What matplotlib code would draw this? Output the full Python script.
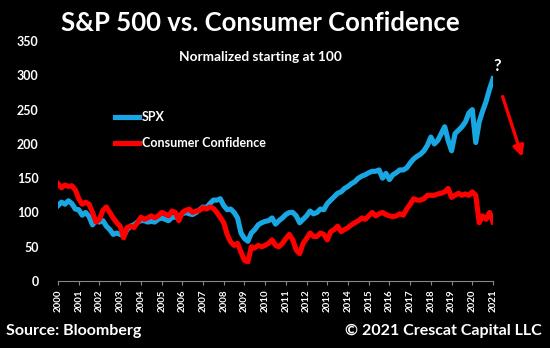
import numpy as np
import matplotlib.pyplot as plt
from matplotlib.lines import Line2D

# Bi-monthly readings, Jan 2000 .. Jan 2021 (normalized, start = 100)
spx = [110, 115, 112, 117, 113, 105,
       104, 96, 100, 94, 82, 88,
       86, 88, 80, 75, 68, 70,
       68, 66, 75, 80, 82, 86,
       88, 88, 86, 87, 86, 90,
       92, 90, 88, 93, 93, 95,
       98, 100, 98, 97, 100, 104,
       108, 107, 113, 118, 118, 120,
       110, 104, 105, 100, 92, 70,
       62, 58, 70, 75, 82, 85,
       87, 88, 92, 83, 88, 92,
       97, 100, 100, 95, 85, 90,
       95, 102, 98, 100, 105, 104,
       113, 118, 123, 128, 130, 135,
       138, 142, 145, 150, 153, 155,
       158, 160, 160, 162, 150, 157,
       148, 155, 158, 162, 162, 165,
       172, 178, 182, 185, 190, 198,
       210, 200, 205, 215, 225, 205,
       190, 215, 220, 225, 232, 245,
       250, 202, 232, 248, 262, 280,
       295]
conf = [142, 136, 140, 138, 139, 133,
        120, 112, 115, 112, 100, 86,
        90, 103, 108, 100, 92, 85,
        80, 63, 78, 80, 78, 85,
        93, 90, 92, 95, 92, 95,
        100, 98, 95, 102, 100, 88,
        100, 103, 105, 100, 102, 103,
        107, 105, 108, 106, 100, 93,
        85, 68, 57, 52, 55, 42,
        30, 28, 50, 48, 52, 50,
        52, 55, 60, 52, 50, 55,
        62, 68, 60, 45, 40, 55,
        62, 70, 65, 65, 70, 68,
        60, 72, 75, 80, 72, 75,
        78, 82, 85, 88, 92, 90,
        95, 100, 95, 98, 100, 97,
        95, 94, 95, 98, 96, 105,
        112, 120, 118, 118, 120, 125,
        125, 125, 127, 128, 130, 135,
        122, 125, 128, 125, 127, 125,
        130, 125, 85, 95, 90, 100,
        86]
dates = 2000 + np.arange(len(spx)) / 6
years = list(range(2000, 2022))
yticks = [0, 50, 100, 150, 200, 250, 300, 350]

blue = '#19a7e3'
red = '#ff0000'
plt.rcParams['font.family'] = ['Lato', 'DejaVu Sans']
plt.rcParams['font.weight'] = 'bold'

fig = plt.figure(figsize=(5.5, 3.48), dpi=100, facecolor='black')
ax = fig.add_axes([0.1055, 0.1925, 0.7909, 0.6895], facecolor='black')

ax.plot(dates, spx, color=blue, lw=3.7, solid_joinstyle='round')
ax.plot(dates, conf, color=red, lw=3.7, solid_joinstyle='round')

ax.set_xlim(2000, 2021)
ax.set_ylim(0, 350)
ax.set_xticks(years)
ax.set_xticklabels([str(y) for y in years], rotation=90, color='white',
                   fontsize=7, fontweight='bold')
ax.set_yticks(yticks)
ax.set_yticklabels([str(v) for v in yticks], color='white', fontsize=9,
                   fontweight='bold')
ax.tick_params(axis='y', length=0, pad=14)
ax.tick_params(axis='x', length=3, color='#888888', pad=3)
for s in ['top', 'right', 'left']:
    ax.spines[s].set_visible(False)
ax.spines['bottom'].set_color('#888888')

handles = [Line2D([], [], color=blue, lw=3.7), Line2D([], [], color=red, lw=3.7)]
ax.legend(handles, ['SPX', 'Consumer Confidence'], loc='upper left',
          bbox_to_anchor=(0.105, 0.755), frameon=False, labelcolor='white',
          prop={'weight': 'bold', 'size': 9}, handlelength=1.9,
          handletextpad=0.25, labelspacing=1.15)

fig.text(0.473, 0.935, 'S&P 500 vs. Consumer Confidence', color='white',
         fontsize=18.5, fontweight='bold', ha='center', va='center')
fig.text(0.473, 0.835, 'Normalized starting at 100', color='white',
         fontsize=9.8, fontweight='bold', ha='center', va='center')
fig.text(0.904, 0.81, '?', color='white', fontsize=12, fontweight='bold',
         ha='center', va='center')
fig.text(0.01, 0.05, 'Source: Bloomberg', color='white', fontsize=11.5,
         fontweight='bold', ha='left', va='center')
fig.text(0.985, 0.05, '\u00a9 2021 Crescat Capital LLC', color='white',
         fontsize=11.5, fontweight='bold', ha='right', va='center')

ax.annotate('', xy=(2022.45, 177), xytext=(2021.42, 273),
            arrowprops=dict(arrowstyle='-|>', color=red, lw=2.4,
                            mutation_scale=16),
            annotation_clip=False)

fig.savefig('out.png', dpi=100, facecolor='black')
